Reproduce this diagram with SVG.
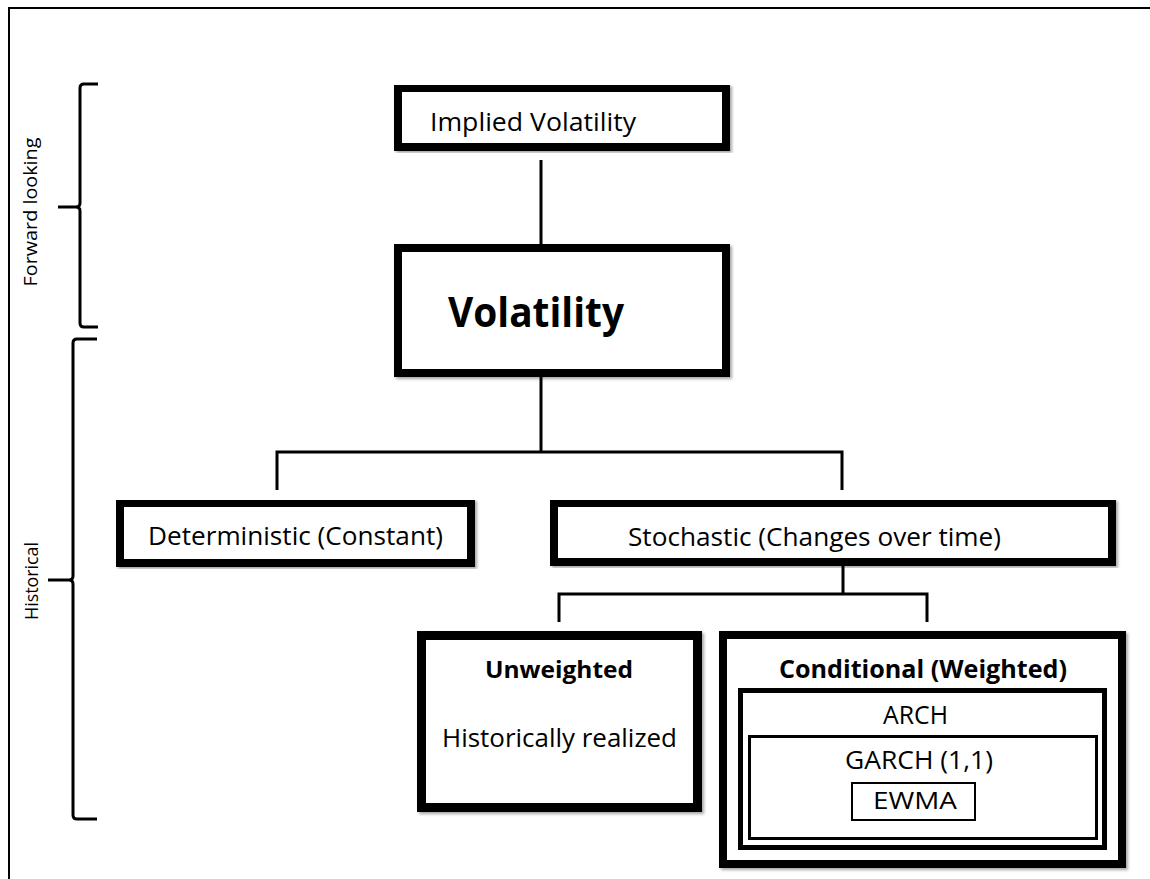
<svg xmlns="http://www.w3.org/2000/svg" width="1150" height="879" viewBox="0 0 1150 879">
<defs>
<filter id="sh" x="-5%" y="-5%" width="110%" height="115%">
<feDropShadow dx="2" dy="2" stdDeviation="1.5" flood-color="#000" flood-opacity="0.35"/>
</filter>
</defs>
<style>
.box{fill:#fff;stroke:#000;filter:url(#sh)}
.t{font-family:"Open Sans","Liberation Sans",sans-serif;fill:#000;text-anchor:middle}
.b{font-weight:bold}
.side{font-family:"Open Sans","Liberation Sans",sans-serif;fill:#000;text-anchor:middle;font-size:18px}
.con{fill:none;stroke:#000;stroke-width:3}
.brace{fill:none;stroke:#000;stroke-width:3}
</style>
<rect x="0" y="0" width="1150" height="879" fill="#fff"/>
<path d="M9,879 V8 H1150" fill="none" stroke="#000" stroke-width="2"/>

<g id="braces">
<path class="brace" d="M98,84 H84 Q80,84 80,88 V203 Q80,207 76,207 H58 M76,207 Q80,207 80,211 V323 Q80,327 84,327 H98"/>
<path class="brace" d="M97,339 H77 Q73,339 73,343 V576 Q73,580 69,580 H48 M69,580 Q73,580 73,584 V815 Q73,819 77,819 H97"/>
<text class="side" transform="translate(37,212) rotate(-90)" textLength="149" lengthAdjust="spacingAndGlyphs">Forward looking</text>
<text class="side" transform="translate(38,581) rotate(-90)" textLength="78" lengthAdjust="spacingAndGlyphs">Historical</text>
</g>

<g id="connectors">
<path class="con" d="M541,160 V244"/>
<path class="con" d="M541,377 V452"/>
<path class="con" d="M277,490 V452 H842 V490"/>
<path class="con" d="M843,566 V594"/>
<path class="con" d="M559,622 V594 H927 V622"/>
</g>

<g id="implied">
<rect class="box" x="398" y="88" width="328" height="59" stroke-width="8"/>
<text class="t" x="533" y="131" font-size="26" textLength="206" lengthAdjust="spacingAndGlyphs">Implied Volatility</text>
</g>

<g id="volatility">
<rect class="box" x="398" y="248" width="328" height="125" stroke-width="8"/>
<text class="t b" x="536" y="327" font-size="41" textLength="176" lengthAdjust="spacingAndGlyphs">Volatility</text>
</g>

<g id="deterministic">
<rect class="box" x="120" y="503" width="351" height="60" stroke-width="8"/>
<text class="t" x="295.5" y="545" font-size="26" textLength="295" lengthAdjust="spacingAndGlyphs">Deterministic (Constant)</text>
</g>

<g id="stochastic">
<rect class="box" x="554" y="503" width="558" height="59" stroke-width="8"/>
<text class="t" x="814.5" y="546" font-size="26" textLength="373" lengthAdjust="spacingAndGlyphs">Stochastic (Changes over time)</text>
</g>

<g id="unweighted">
<rect class="box" x="421.5" y="635.5" width="276" height="172" stroke-width="9"/>
<text class="t b" x="559" y="678" font-size="24" textLength="148" lengthAdjust="spacingAndGlyphs">Unweighted</text>
<text class="t" x="559.5" y="747" font-size="26" textLength="235" lengthAdjust="spacingAndGlyphs">Historically realized</text>
</g>

<g id="conditional">
<rect class="box" x="723" y="635" width="399" height="229" stroke-width="8"/>
<text class="t b" x="923" y="678" font-size="25" textLength="288" lengthAdjust="spacingAndGlyphs">Conditional (Weighted)</text>
</g>

<g id="arch">
<rect x="740.5" y="690.5" width="364" height="157" fill="#fff" stroke="#000" stroke-width="5"/>
<text class="t" x="915.5" y="724" font-size="25" textLength="65" lengthAdjust="spacingAndGlyphs">ARCH</text>
</g>

<g id="garch">
<rect x="749.5" y="736.5" width="347" height="102" fill="#fff" stroke="#000" stroke-width="3"/>
<text class="t" x="919" y="769" font-size="25" textLength="148" lengthAdjust="spacingAndGlyphs">GARCH (1,1)</text>
</g>

<g id="ewma">
<rect x="852" y="783" width="123" height="37" fill="#fff" stroke="#000" stroke-width="2"/>
<text class="t" x="915" y="809" font-size="23" textLength="84" lengthAdjust="spacingAndGlyphs">EWMA</text>
</g>
</svg>
